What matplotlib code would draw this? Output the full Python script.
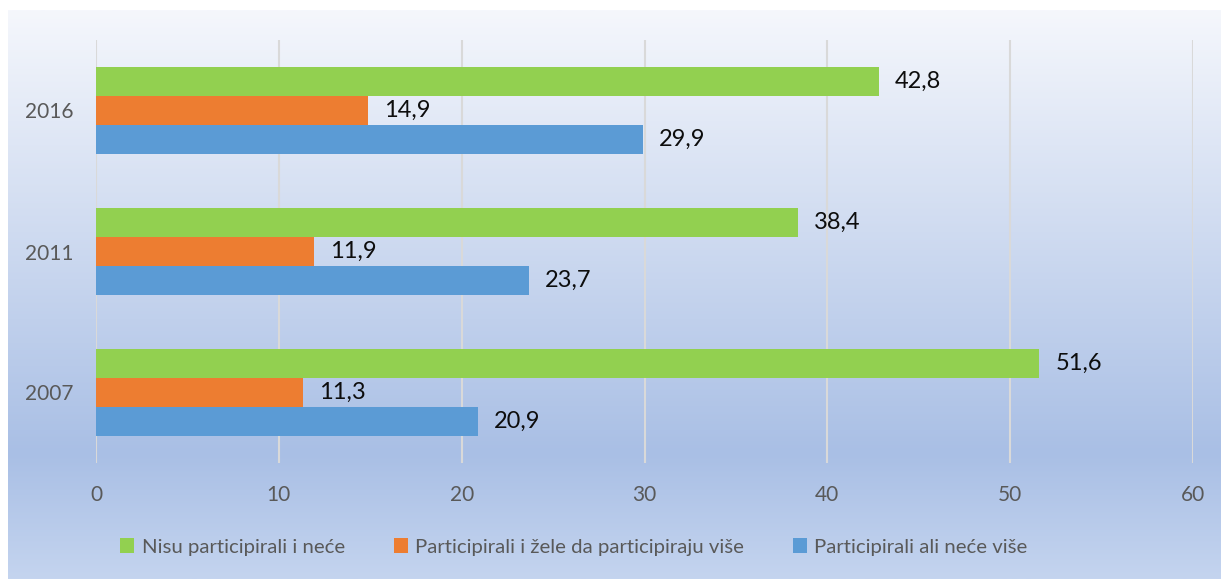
import matplotlib
matplotlib.use('Agg')
import numpy as np
import matplotlib.pyplot as plt
from matplotlib.colors import LinearSegmentedColormap

# --- datos ---
godine = ["2007", "2011", "2016"]
nisu_participirali = [51.6, 38.4, 42.8]
participirali_zele_vise = [11.3, 11.9, 14.9]
participirali_nece_vise = [20.9, 23.7, 29.9]

serije = [
    ("Nisu participirali i neće", nisu_participirali, "#92d050", 1),
    ("Participirali i žele da participiraju više", participirali_zele_vise, "#ed7d31", 0),
    ("Participirali ali neće više", participirali_nece_vise, "#5b9bd5", -1),
]

plt.rcParams['font.family'] = ['Lato', 'DejaVu Sans']

fig = plt.figure(figsize=(12.21, 5.79), dpi=100)

# fondo con degradado (como en Excel)
bg = fig.add_axes([8 / 1221, 0, 1 - 8 / 1221, 1 - 10 / 579])
bg.set_axis_off()
cmap = LinearSegmentedColormap.from_list(
    "fondo", [(0.0, "#f5f7fc"), (0.78, "#a9bfe5"), (1.0, "#c4d4ef")])
grad = np.linspace(0, 1, 256).reshape(-1, 1)
bg.imshow(grad, aspect="auto", cmap=cmap, extent=[0, 1, 0, 1], origin="upper")
bg.set_zorder(0)

ax = fig.add_axes([96 / 1221, 1 - 463 / 579, (1193 - 96) / 1221, (463 - 40) / 579])
ax.set_zorder(1)
ax.patch.set_alpha(0)

y = np.arange(len(godine))
h = 0.205
for nombre, valores, color, off in serije:
    barras = ax.barh(y + off * h, valores, height=h, color=color, label=nombre, zorder=3)
    for b, v in zip(barras, valores):
        ax.annotate(f"{v:.1f}".replace(".", ","),
                    (b.get_width(), b.get_y() + b.get_height() / 2),
                    xytext=(11.5, 0), textcoords="offset points",
                    va="center", ha="left", fontsize=17, color="#0d0d0d", zorder=4)

ax.set_xlim(0, 60)
ax.set_ylim(-0.5, 2.5)
ax.set_xticks(range(0, 61, 10))
ax.set_yticks(y)
ax.set_yticklabels(godine)
ax.grid(axis="x", color="#d9d9d9", linewidth=1.5, zorder=0)
for s in ax.spines.values():
    s.set_visible(False)
ax.tick_params(axis="x", length=0, pad=16, labelsize=15, labelcolor="#595959")
ax.tick_params(axis="y", length=0, pad=16, labelsize=15, labelcolor="#595959")

handles, labels = ax.get_legend_handles_labels()
leg = fig.legend(handles, labels, loc="center", bbox_to_anchor=(0.470, 1 - 547 / 579),
                 ncol=3, frameon=False, fontsize=14.7, handlelength=0.7, handleheight=0.7,
                 handletextpad=0.35, columnspacing=2.4, labelcolor="#595959")

fig.savefig("out.png", dpi=100, facecolor="white")
